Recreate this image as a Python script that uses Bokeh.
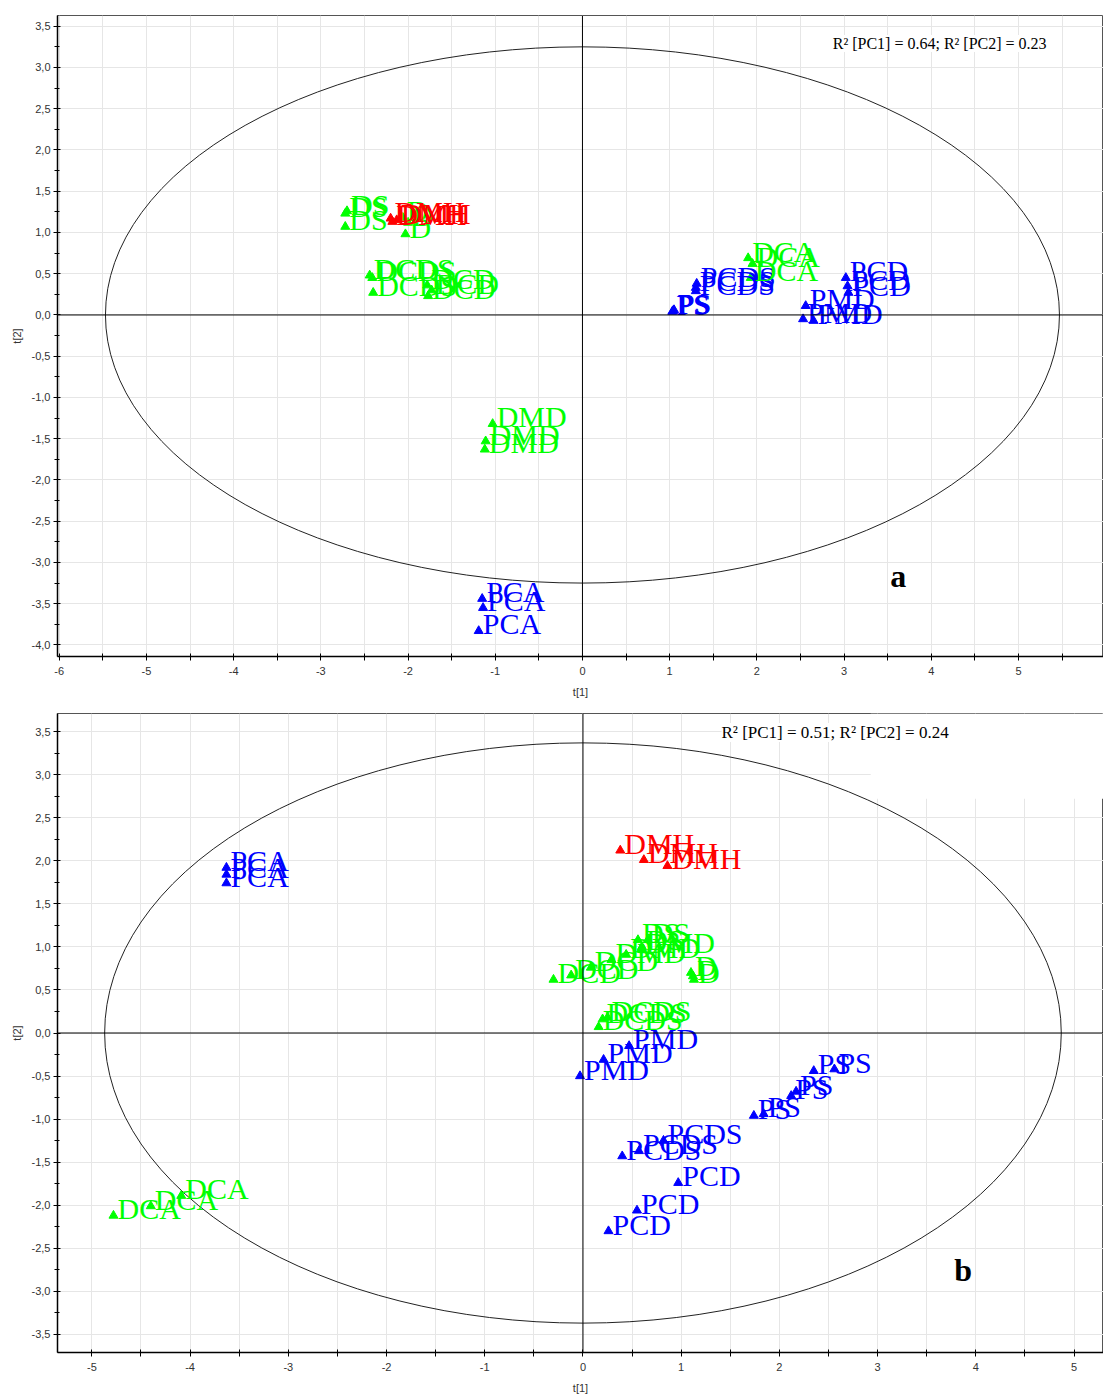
from bokeh.plotting import figure
from bokeh.models import ColumnDataSource, Span, Label, FixedTicker, BoxAnnotation
from bokeh.layouts import column
from bokeh.embed import file_html
from bokeh.resources import INLINE
from bokeh.core.properties import value

# ---------------- data: panel a ----------------
a_labels = ["DS", "DS", "DS",
            "D", "D", "D",
            "DMH", "DMH", "DMH",
            "DCDS", "DCDS", "DCDS",
            "DCD", "DCD", "DCD",
            "DMD", "DMD", "DMD",
            "PCA", "PCA", "PCA",
            "PS", "PS", "PS",
            "PCDS", "PCDS", "PCDS",
            "DCA", "DCA", "DCA",
            "PMD", "PMD", "PMD",
            "PCD", "PCD", "PCD"]
a_t1 = [-2.70, -2.72, -2.72,
        -2.06, -2.00, -2.03,
        -2.20, -2.13, -2.18,
        -2.44, -2.41, -2.40,
        -1.73, -1.78, -1.77,
        -1.03, -1.11, -1.12,
        -1.15, -1.14, -1.19,
        1.05, 1.03, 1.04,
        1.31, 1.30, 1.30,
        1.90, 1.95, 1.93,
        2.56, 2.53, 2.65,
        3.02, 3.04, 3.05]
a_t2 = [1.26, 1.23, 1.07,
        1.18, 1.12, 0.98,
        1.17, 1.15, 1.13,
        0.48, 0.45, 0.27,
        0.30, 0.36, 0.23,
        -1.32, -1.53, -1.63,
        -3.44, -3.55, -3.83,
        0.06, 0.04, 0.05,
        0.38, 0.33, 0.29,
        0.69, 0.62, 0.45,
        0.11, -0.05, -0.07,
        0.45, 0.35, 0.27]

# ---------------- data: panel b ----------------
b_labels = ["DMH", "DMH", "DMH",
            "PCA", "PCA", "PCA",
            "DCA", "DCA", "DCA",
            "D", "D", "D",
            "DS", "DS", "DS",
            "DCD", "DCD", "DCD",
            "DMD", "DMD", "DMD",
            "DCDS", "DCDS", "DCDS",
            "PMD", "PMD", "PMD",
            "PS", "PS", "PS", "PS", "PS", "PS",
            "PCDS", "PCDS", "PCDS",
            "PCD", "PCD", "PCD"]
b_t1 = [0.38, 0.62, 0.86,
        -3.63, -3.63, -3.63,
        -4.78, -4.40, -4.09,
        1.10, 1.13, 1.12,
        0.56, 0.66, 0.60,
        -0.30, -0.12, 0.08,
        0.29, 0.44, 0.59,
        0.20, 0.16, 0.25,
        0.47, 0.21, -0.03,
        2.35, 2.56, 2.12, 2.17, 1.74, 1.84,
        0.40, 0.57, 0.82,
        0.97, 0.55, 0.26]
b_t2 = [2.12, 2.01, 1.94,
        1.92, 1.84, 1.74,
        -2.12, -2.01, -1.89,
        0.70, 0.62, 0.66,
        1.08, 1.08, 1.00,
        0.62, 0.67, 0.76,
        0.85, 0.91, 0.97,
        0.16, 0.07, 0.18,
        -0.15, -0.31, -0.50,
        -0.44, -0.42, -0.73, -0.68, -0.96, -0.94,
        -1.43, -1.37, -1.25,
        -1.74, -2.06, -2.30]

group_colors = {"D": "#00FF00", "DS": "#00FF00", "DCD": "#00FF00", "DCDS": "#00FF00",
                "DMD": "#00FF00", "DCA": "#00FF00", "DMH": "#FF0000",
                "P": "#0000FF", "PS": "#0000FF", "PCD": "#0000FF", "PCDS": "#0000FF",
                "PMD": "#0000FF", "PCA": "#0000FF"}

a_r2 = "R\u00b2 [PC1] = 0.64; R\u00b2 [PC2] = 0.23"
b_r2 = "R\u00b2 [PC1] = 0.51; R\u00b2 [PC2] = 0.24"

# Hotelling ellipse semi-axes
a_ellipse = (5.47, 3.25)
b_ellipse = (4.87, 3.37)


def fmt_y(v):
    s = "%.1f" % v
    if s == "-0.0":
        s = "0.0"
    return s.replace(".", ",")


def make_panel(labels, t1, t2, xr, yr, xt, yt, ell, r2, r2pos, r2size, letter, letterpos,
               height, top, bottom, mask=None):
    p = figure(width=1103, height=height, x_range=xr, y_range=yr,
               output_backend="svg", toolbar_location=None,
               min_border_left=57, min_border_right=0,
               min_border_top=top, min_border_bottom=bottom,
               background_fill_color="white")
    p.outline_line_color = "#555555"
    p.outline_line_width = 1

    xticks = [i * 0.5 for i in range(int(xt[0] * 2), int(xt[1] * 2) + 1)]
    xo = {}
    for t in xticks:
        xo[t] = str(int(t)) if abs(t - round(t)) < 1e-9 else ""
    p.xaxis.ticker = FixedTicker(ticks=xticks)
    p.xaxis.major_label_overrides = xo
    yticks = [i * 0.5 for i in range(int(yt[0] * 2), int(yt[1] * 2) + 1)]
    ymin = [t + 0.25 for t in yticks[:-1]]
    p.yaxis.ticker = FixedTicker(ticks=yticks, minor_ticks=ymin)
    p.yaxis.major_label_overrides = {t: fmt_y(t) for t in yticks}

    for ax in (p.xaxis[0], p.yaxis[0]):
        ax.axis_line_color = "black"
        ax.axis_line_width = 1.5
        ax.major_tick_in = 3
        ax.major_tick_out = 4
        ax.minor_tick_in = 2
        ax.minor_tick_out = 3
        ax.major_tick_line_color = "black"
        ax.minor_tick_line_color = "black"
        ax.major_label_text_font = "Liberation Sans"
        ax.major_label_text_font_size = "11px"
        ax.major_label_text_color = "#333333"
        ax.axis_label_text_font = "Liberation Sans"
        ax.axis_label_text_font_size = "11px"
        ax.axis_label_text_font_style = "normal"
        ax.axis_label_text_color = "#333333"
    p.xaxis.minor_tick_line_color = None
    p.xaxis.axis_label = "t[1]"
    p.yaxis.axis_label = "t[2]"
    p.xaxis.major_label_standoff = 6
    p.xaxis.axis_label_standoff = 8
    p.yaxis.major_label_standoff = 3
    p.yaxis.axis_label_standoff = 6

    p.xgrid.grid_line_color = "#e6e6e6"
    p.ygrid.grid_line_color = "#e6e6e6"

    if mask is not None:
        p.add_layout(BoxAnnotation(left=mask[0], right=mask[1], bottom=mask[2], top=mask[3],
                                   fill_color="white", fill_alpha=1.0, line_color=None,
                                   level="underlay"))

    p.add_layout(Span(location=0, dimension="height", line_color="black", line_width=1))
    p.add_layout(Span(location=0, dimension="width", line_color="black", line_width=1))

    p.ellipse(x=[0], y=[0], width=[2 * ell[0]], height=[2 * ell[1]],
              fill_color=None, line_color="#222222", line_width=1)

    colors = [group_colors[l] for l in labels]
    src = ColumnDataSource(dict(x=t1, y=t2, label=labels, color=colors))
    p.scatter("x", "y", marker="triangle", size=9, color="color", source=src)
    p.text("x", "y", text="label", source=src, text_color="color",
           text_font=value("Liberation Serif"), text_font_size="30px",
           x_offset=4, y_offset=-7, text_baseline="alphabetic", text_align="left")

    p.add_layout(Label(x=r2pos[0], y=r2pos[1], text=r2, text_font="Liberation Serif",
                       text_font_size=r2size, text_color="black", text_baseline="middle",
                       background_fill_color="white"))
    p.add_layout(Label(x=letterpos[0], y=letterpos[1], text=letter,
                       text_font="Liberation Serif", text_font_size="32px",
                       text_font_style="bold", text_color="black", text_baseline="middle"))
    return p


pa = make_panel(a_labels, a_t1, a_t2, (-6.02, 5.975), (-4.14, 3.63), (-6, 6), (-4.0, 3.5),
                a_ellipse, a_r2, (2.87, 3.29), "16px", "a", (3.53, -3.16), 700, 15, 44)
pb = make_panel(b_labels, b_t1, b_t2, (-5.35, 5.30), (-3.71, 3.71), (-5, 5), (-3.5, 3.5),
                b_ellipse, b_r2, (1.41, 3.49), "17px", "b", (3.78, -2.75), 696, 13, 41,
                mask=(2.93, 5.30, 2.72, 3.71))

layout = column(pa, pb, spacing=0)
open("out.html", "w").write(file_html(layout, INLINE))
